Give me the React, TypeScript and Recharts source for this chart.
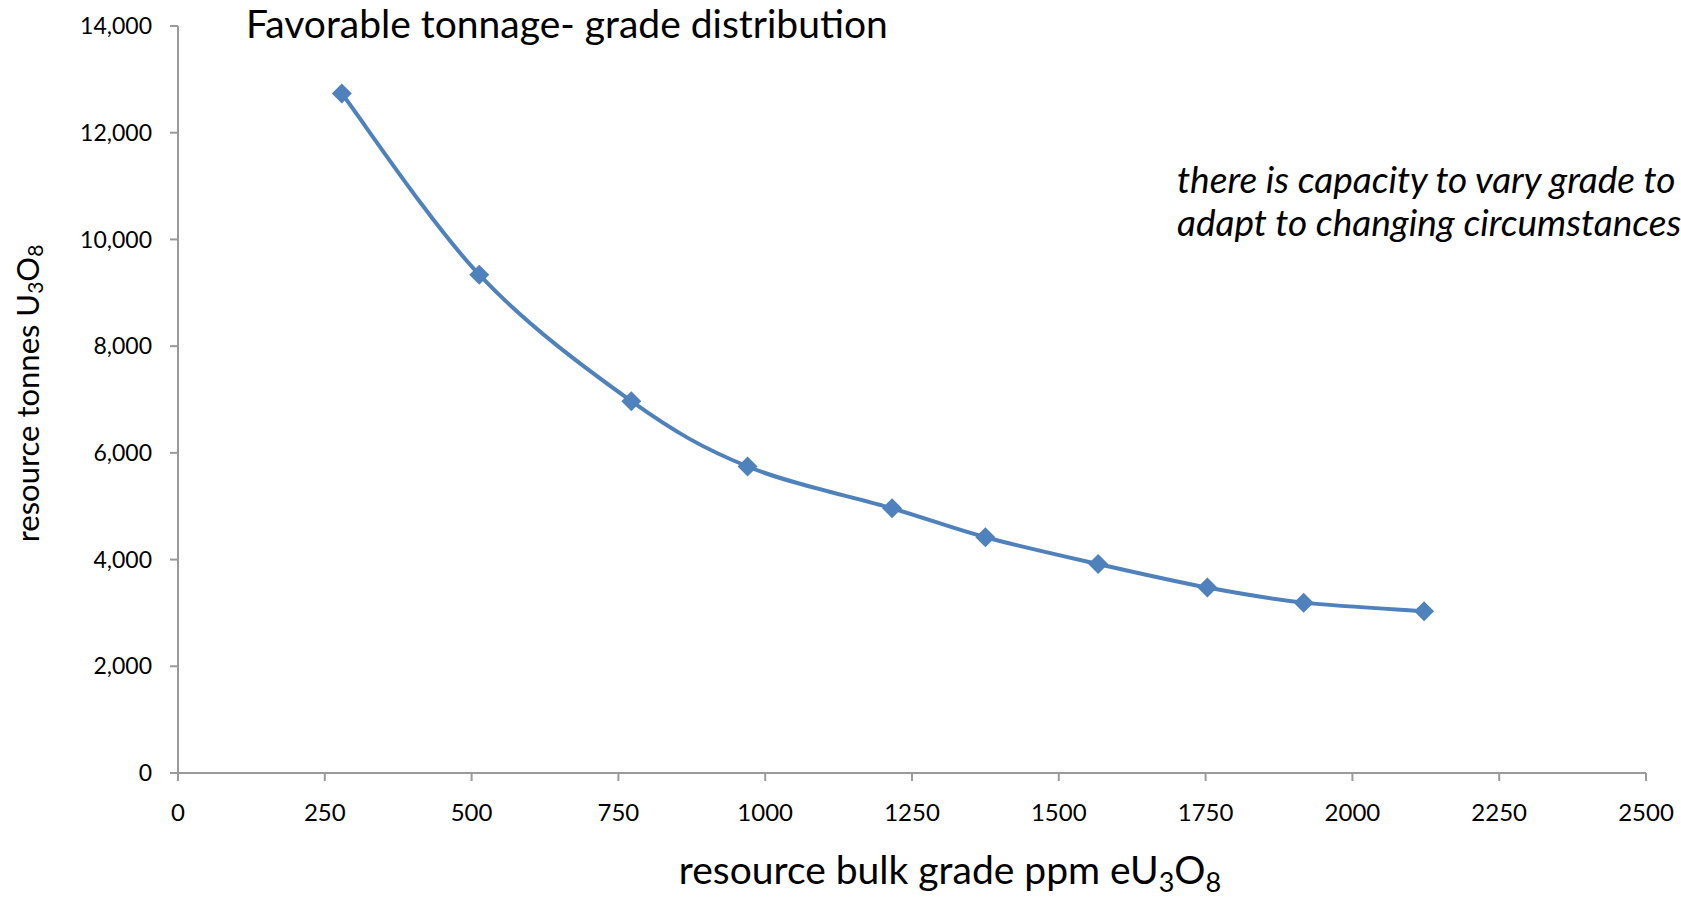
import React from 'react';
import { LineChart, Line, XAxis, YAxis } from 'recharts';

const grades = [279, 513, 772, 970, 1216, 1375, 1567, 1753, 1917, 2122];
const tonnes = [12734, 9339, 6969, 5744, 4961, 4419, 3916, 3475, 3193, 3033];
const xTicks = [0, 250, 500, 750, 1000, 1250, 1500, 1750, 2000, 2250, 2500];
const yTicks = [0, 2000, 4000, 6000, 8000, 10000, 12000, 14000];

const data = grades.map((g, i) => ({ x: g, y: tonnes[i] }));

const FONT = 'Lato, "Open Sans", sans-serif';
const BLUE = '#4F81BD';
const AXIS = '#9A9A9A';

// Excel-like smoothed line (uniform Catmull-Rom as cubic Bezier segments)
const excelSmooth = (context: any) => {
  let pts: number[][] = [];
  return {
    areaStart() {},
    areaEnd() {},
    lineStart() {
      pts = [];
    },
    point(x: number, y: number) {
      pts.push([+x, +y]);
    },
    lineEnd() {
      if (!pts.length) return;
      context.moveTo(pts[0][0], pts[0][1]);
      for (let i = 0; i < pts.length - 1; i++) {
        const p0 = pts[i - 1] || pts[i];
        const p1 = pts[i];
        const p2 = pts[i + 1];
        const p3 = pts[i + 2] || p2;
        context.bezierCurveTo(
          p1[0] + (p2[0] - p0[0]) / 6,
          p1[1] + (p2[1] - p0[1]) / 6,
          p2[0] - (p3[0] - p1[0]) / 6,
          p2[1] - (p3[1] - p1[1]) / 6,
          p2[0],
          p2[1]
        );
      }
    },
  };
};

const Diamond = (props: any) => {
  const { cx, cy } = props;
  if (cx == null || cy == null) return null;
  const r = 10;
  return (
    <path
      d={`M${cx},${cy - r} L${cx + r},${cy} L${cx},${cy + r} L${cx - r},${cy} Z`}
      fill={BLUE}
      stroke="none"
    />
  );
};

const XTitle = (props: any) => {
  const vb = props.viewBox || {};
  const x = (vb.x ?? 178) + (vb.width ?? 1468) / 2 + 38;
  const y = 884;
  return (
    <text x={x} y={y} textAnchor="middle" fontFamily={FONT} fontSize={39} fill="#000">
      resource bulk grade ppm eU<tspan dy={8} fontSize={27}>3</tspan>
      <tspan dy={-8}>O</tspan>
      <tspan dy={8} fontSize={27}>8</tspan>
    </text>
  );
};

const YTitle = (props: any) => {
  const vb = props.viewBox || {};
  const cx = 27;
  const cy = (vb.y ?? 26) + (vb.height ?? 747) / 2 - 6;
  return (
    <text
      x={cx}
      y={cy}
      transform={`rotate(-90, ${cx}, ${cy})`}
      textAnchor="middle"
      dominantBaseline="central"
      fontFamily={FONT}
      fontSize={31}
      fill="#000"
    >
      resource tonnes U<tspan dy={7} fontSize={21}>3</tspan>
      <tspan dy={-7}>O</tspan>
      <tspan dy={7} fontSize={21}>8</tspan>
    </text>
  );
};

export default function App() {
  return (
    <div style={{ position: 'absolute', left: 0, top: 0, width: 1681, height: 897, background: '#fff' }}>
      <LineChart
        width={1681}
        height={897}
        data={data}
        margin={{ top: 26, right: 35, left: 0, bottom: 0 }}
      >
        <XAxis
          type="number"
          dataKey="x"
          domain={[0, 2500]}
          ticks={xTicks}
          interval={0}
          height={124}
          stroke={AXIS}
          strokeWidth={2}
          tickSize={8}
          tickMargin={23}
          tick={{ fill: '#000', fontFamily: FONT, fontSize: 24 }}
          tickLine={{ stroke: AXIS, strokeWidth: 2 }}
          label={{ content: XTitle }}
        />
        <YAxis
          type="number"
          domain={[0, 14000]}
          ticks={yTicks}
          interval={0}
          width={178}
          stroke={AXIS}
          strokeWidth={2}
          tickSize={8}
          tickMargin={18}
          tick={{ fill: '#000', fontFamily: FONT, fontSize: 23 }}
          tickLine={{ stroke: AXIS, strokeWidth: 2 }}
          tickFormatter={(v: number) => v.toLocaleString('en-US')}
          label={{ content: YTitle }}
        />
        <Line
          type={excelSmooth as any}
          dataKey="y"
          stroke={BLUE}
          strokeWidth={4}
          dot={<Diamond />}
          activeDot={false}
          isAnimationActive={false}
        />
      </LineChart>
      <div
        style={{
          position: 'absolute',
          left: 246,
          top: -2,
          fontFamily: FONT,
          fontSize: 39,
          color: '#000',
          whiteSpace: 'nowrap',
          lineHeight: '50px',
        }}
      >
        Favorable tonnage- grade distribution
      </div>
      <div
        style={{
          position: 'absolute',
          left: 1177,
          top: 157,
          fontFamily: FONT,
          fontStyle: 'italic',
          fontSize: 37,
          color: '#000',
          whiteSpace: 'nowrap',
          lineHeight: '43px',
        }}
      >
        there is capacity to vary grade to
        <br />
        adapt to changing circumstances
      </div>
    </div>
  );
}
